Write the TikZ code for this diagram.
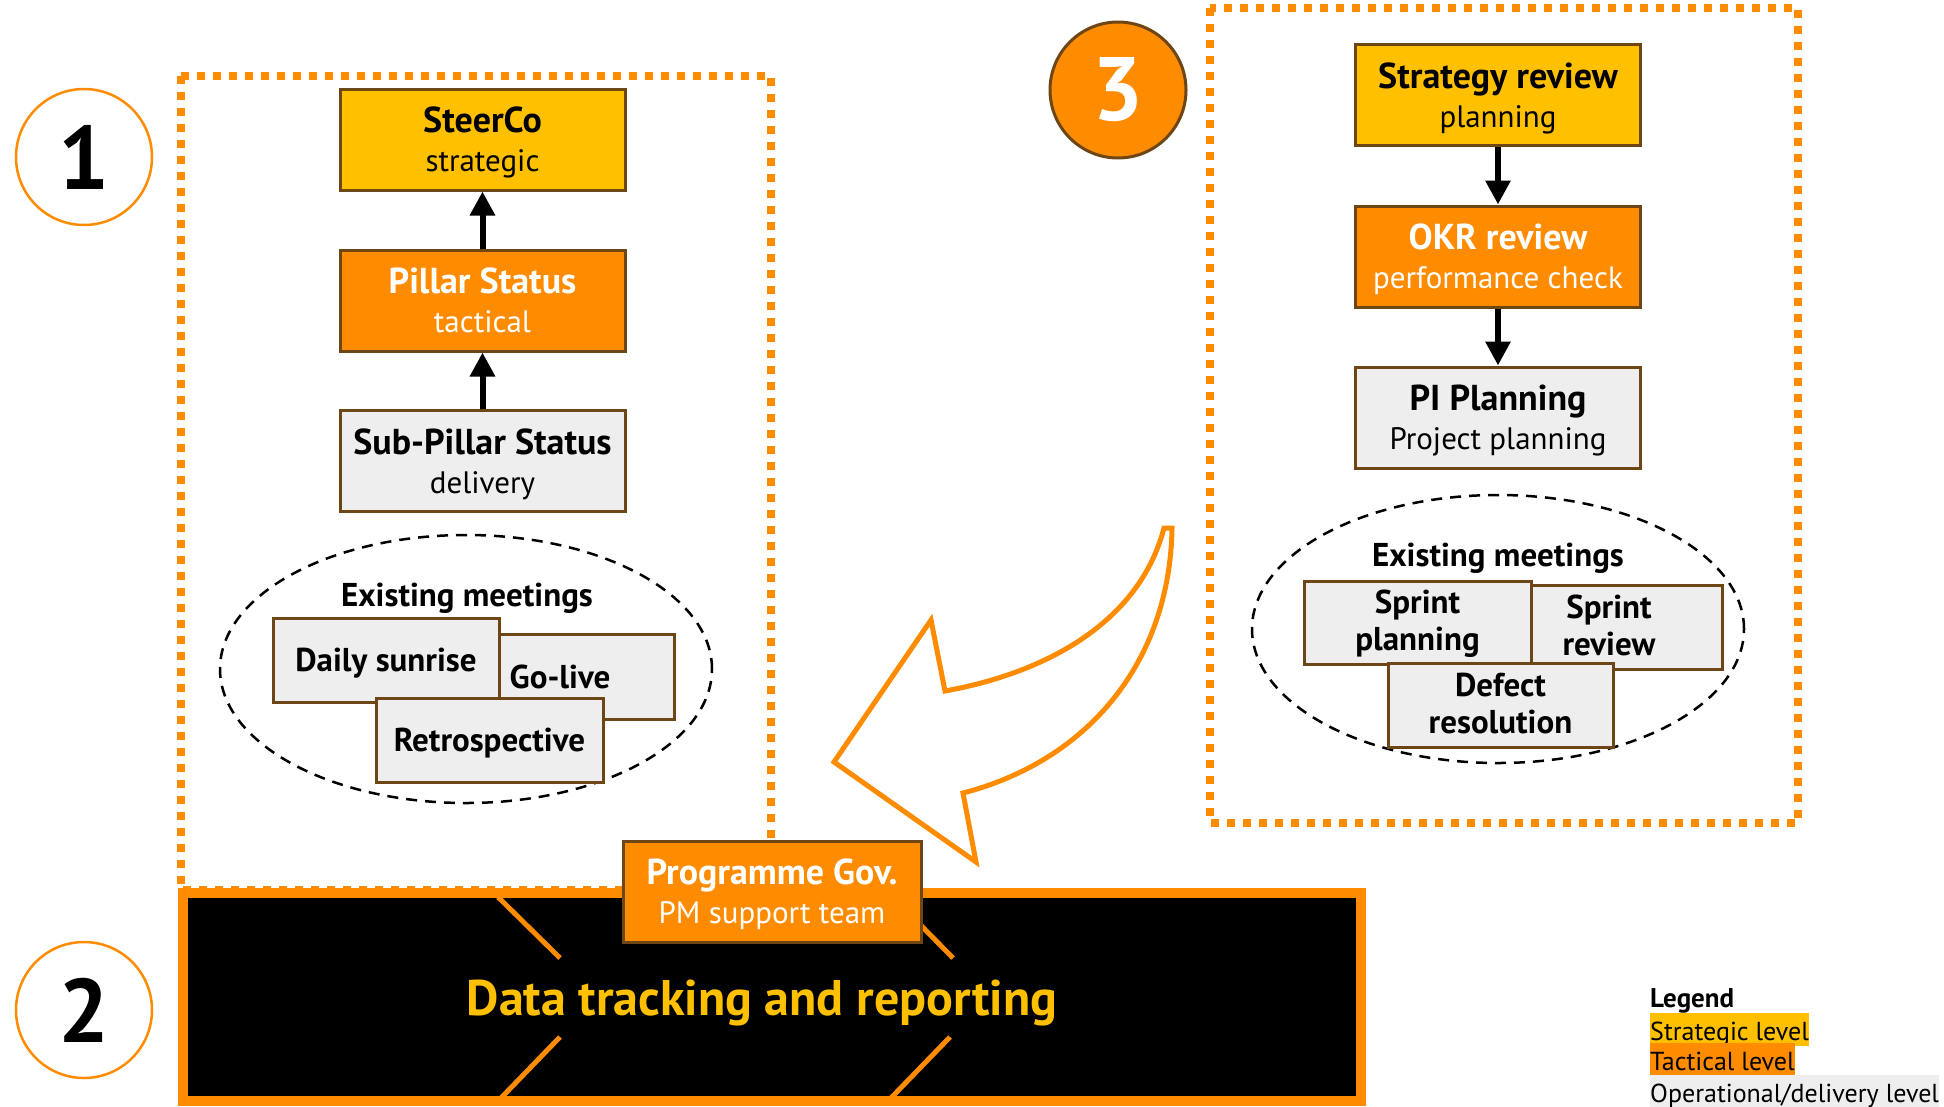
\documentclass[tikz,border=0pt]{standalone}
\usepackage{fontspec}
\setmainfont{PT Sans}
\usetikzlibrary{arrows.meta,shapes.geometric}

\definecolor{gold}{HTML}{FFC000}
\definecolor{orng}{HTML}{FF8C00}
\definecolor{lgrey}{HTML}{EEEEEE}
\definecolor{brn}{HTML}{6E4514}

\newcommand\fsz[2]{\fontsize{#1}{#2}\selectfont}
% two-line level box text: bold title over a regular subtitle, fixed baselines
\newcommand\lvl[2]{\rule{0pt}{35pt}#1\\{\fsz{31}{39}\mdseries #2\rule[-10pt]{0pt}{10pt}}}
% meeting box text, one or two lines
\newcommand\oneline[1]{\rule[-6pt]{0pt}{36pt}#1}
\newcommand\twoline[2]{\rule{0pt}{27pt}#1\\#2\rule[-8pt]{0pt}{8pt}}

\tikzset{
  lvlbox/.style={draw=brn, line width=3pt, minimum width=285pt, minimum height=101pt,
    inner sep=0pt, align=center, font=\fsz{36}{39}\bfseries},
  meetbox/.style={draw=brn, line width=3pt, fill=lgrey, inner sep=0pt, align=center,
    font=\fsz{33}{37}\bfseries},
  framedot/.style={draw=orng, line width=8pt, dash pattern=on 8pt off 8pt},
  meetring/.style={ellipse, draw=black, line width=2.5pt, dash pattern=on 11pt off 8pt,
    minimum width=492pt, minimum height=268pt, inner sep=0pt},
  conn/.style={draw=black, line width=6pt, -{Triangle[width=24pt,length=24pt]}},
  legrow/.style={anchor=base west, inner sep=0pt, text height=27pt, text depth=6pt,
    font=\fsz{26}{31}},
  chevline/.style={draw=orng, line width=5pt}
}

\begin{document}
\begin{tikzpicture}[x=1pt,y=-1pt]
\useasboundingbox (0,0) rectangle (1944,1106);

% dotted frames around the two meeting stacks
\draw[framedot] (181,76) rectangle (771,890);
\draw[framedot] (1210,8) rectangle (1798,823);

% numbered markers
\node[circle, draw=orng, line width=2.5pt, fill=white, minimum size=136pt, inner sep=0pt,
  font=\fsz{90}{90}\bfseries] (num1) at (84,157) {1};
\node[circle, draw=orng, line width=2.5pt, fill=white, minimum size=136pt, inner sep=0pt,
  font=\fsz{90}{90}\bfseries] (num2) at (84,1010) {2};
\node[circle, draw=brn, line width=3pt, fill=orng, minimum size=136pt, inner sep=0pt,
  text=white, font=\fsz{90}{90}\bfseries] (num3) at (1118,90) {3};

% governance stack, left
\node[lvlbox, fill=gold] (steerco) at (482.5,139.5) {\lvl{SteerCo}{strategic}};
\node[lvlbox, fill=orng, text=white] (pillar) at (482.5,300.5) {\lvl{Pillar Status}{tactical}};
\node[lvlbox, fill=lgrey] (subpillar) at (482.5,461) {\lvl{Sub-Pillar Status}{delivery}};
\draw[conn] (subpillar.north) -- (pillar.south);
\draw[conn] (pillar.north) -- (steerco.south);

% existing meetings, left
\node[meetring] (ringL) at (466,669) {};
\node[font=\fsz{33}{37}\bfseries] (exL) at (467,598) {Existing meetings};
\node[meetbox, minimum width=228pt, minimum height=85pt] (golive) at (560,676.5) {\oneline{Go-live}};
\node[meetbox, minimum width=226pt, minimum height=84pt] (daily) at (386,660) {\oneline{Daily sunrise}};
\node[meetbox, minimum width=227pt, minimum height=84pt] (retro) at (489.5,740) {\oneline{Retrospective}};

% planning stack, right
\node[lvlbox, fill=gold] (strat) at (1498,95) {\lvl{Strategy review}{planning}};
\node[lvlbox, fill=orng, text=white] (okr) at (1498,256.5) {\lvl{OKR review}{performance check}};
\node[lvlbox, fill=lgrey] (pip) at (1498,417.5) {\lvl{PI Planning}{Project planning}};
\draw[conn] (strat.south) -- (okr.north);
\draw[conn] (okr.south) -- (pip.north);

% existing meetings, right
\node[meetring] (ringR) at (1498,629) {};
\node[font=\fsz{33}{37}\bfseries] (exR) at (1498,558) {Existing meetings};
\node[meetbox, minimum width=226pt, minimum height=84pt] (sreview) at (1609,627) {\twoline{Sprint}{review}};
\node[meetbox, minimum width=227pt, minimum height=83pt] (splan) at (1417.5,622.5) {\twoline{Sprint}{planning}};
\node[meetbox, minimum width=225pt, minimum height=84pt] (defect) at (1500.5,705) {\twoline{Defect}{resolution}};

% curved hand-over arrow
\draw[orng, line width=5pt, fill=white, line join=miter]
  (1172,528) .. controls (1170,660) and (1090,760) .. (963,793)
  -- (976,862) -- (834,762) -- (931,620) -- (945,691)
  .. controls (1050,672) and (1140,620) .. (1164,528) -- cycle;

% data tracking band
\node[draw=orng, line width=10pt, fill=black, minimum width=1178pt, minimum height=208pt,
  inner sep=0pt] (band) at (772,997) {};
\draw[chevline] (498,897) -- (560,958);
\draw[chevline] (560,1037) -- (500,1099);
\draw[chevline] (893,897) -- (953,958);
\draw[chevline] (950,1037) -- (890,1099);
\node[text=gold, font=\fsz{50}{55}\bfseries] (bandtitle) at (762,1003) {Data tracking and reporting};

\node[lvlbox, fill=orng, text=white, minimum width=298pt] (prog) at (772,891.5)
  {\lvl{Programme Gov.}{PM support team}};

% legend
\node[anchor=base west, inner sep=0pt, font=\fsz{27}{31}\bfseries] (legtitle) at (1650,1007) {Legend};
\node[legrow, fill=gold] (legS) at (1650,1040) {Strategic level};
\node[legrow, fill=orng] (legT) at (1650,1070) {Tactical level};
\node[legrow, fill=lgrey] (legO) at (1650,1102) {Operational/delivery level};
\end{tikzpicture}
\end{document}
